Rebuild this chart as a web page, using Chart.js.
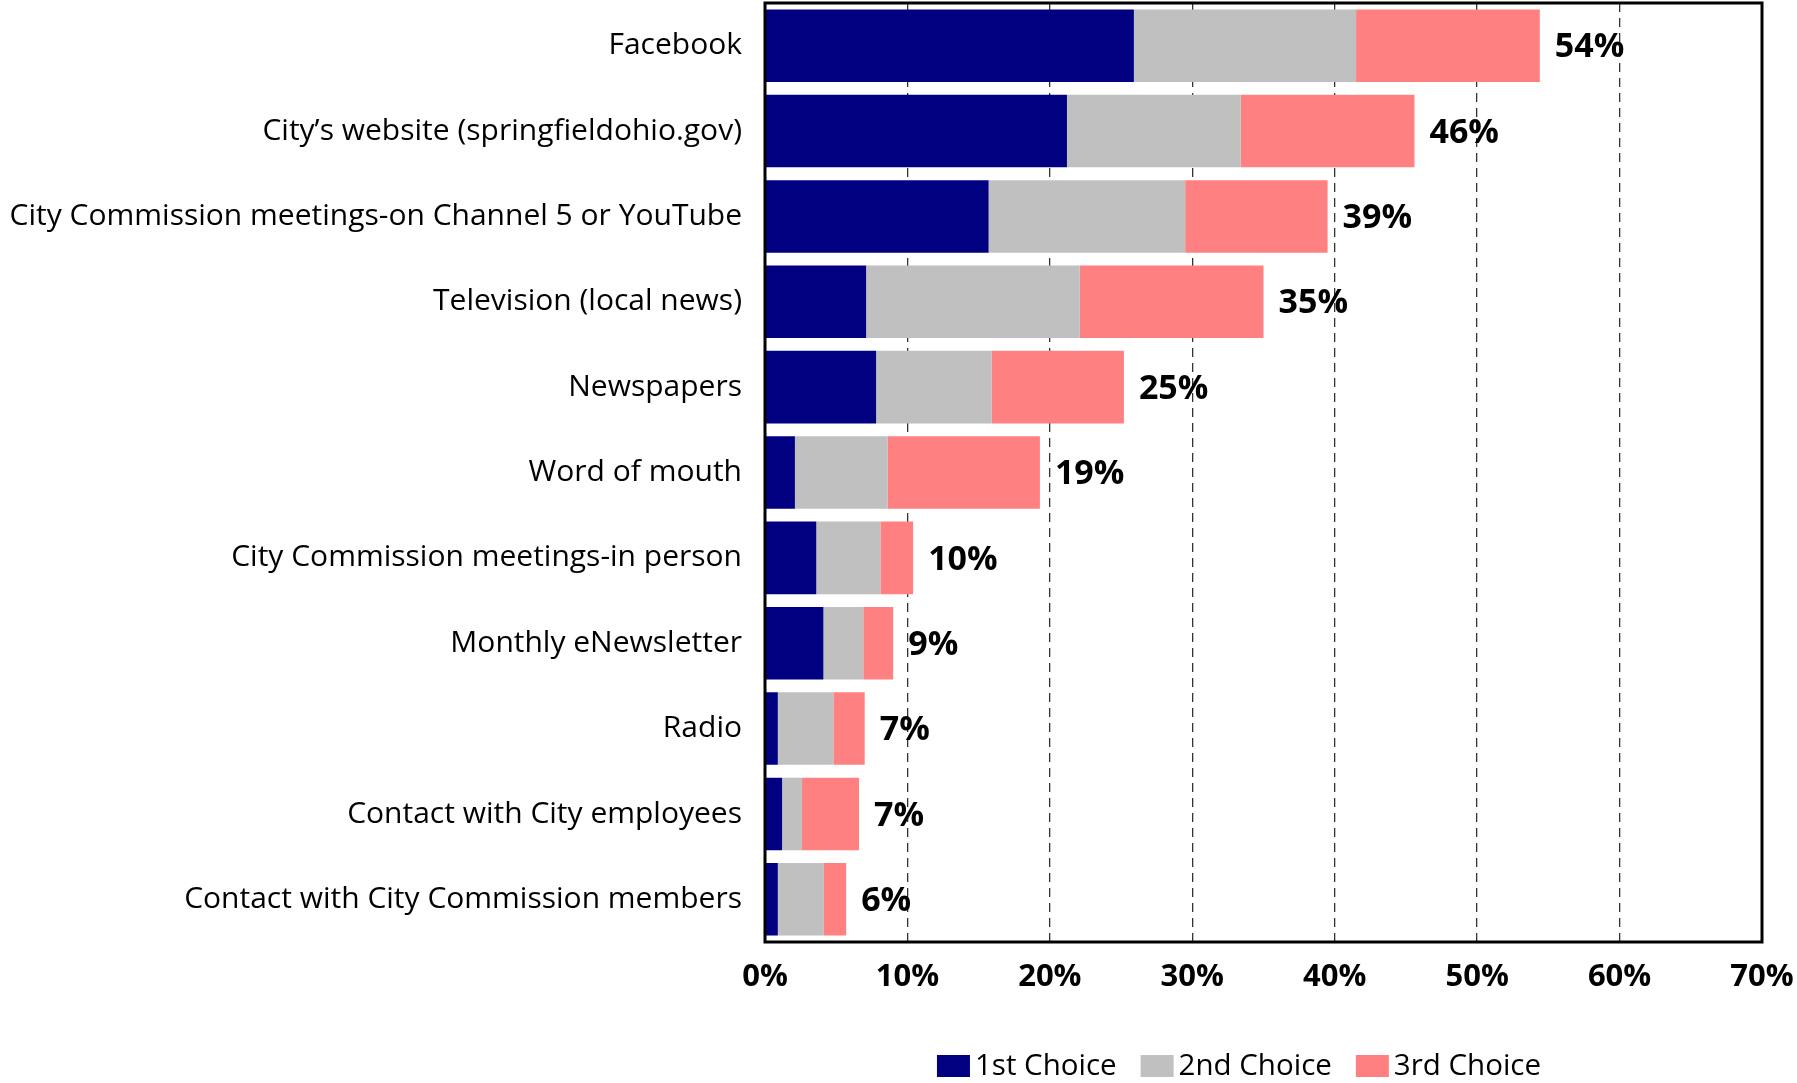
<!DOCTYPE html>
<html>
<head>
<meta charset="utf-8">
<script src="https://cdn.jsdelivr.net/npm/chart.js@4"></script>
<style>
  html, body { margin: 0; padding: 0; background: #fff; }
</style>
</head>
<body>
<canvas id="chart" width="1797" height="1083"></canvas>
<script>
// categories, top to bottom
var categories = [
    'Facebook',
    'City\u2019s website (springfieldohio.gov)',
    'City Commission meetings-on Channel 5 or YouTube',
    'Television (local news)',
    'Newspapers',
    'Word of mouth',
    'City Commission meetings-in person',
    'Monthly eNewsletter',
    'Radio',
    'Contact with City employees',
    'Contact with City Commission members'
];

// percent of respondents
var firstChoice  = [25.9, 21.2, 15.7, 7.1, 7.8, 2.1, 3.6, 4.1, 0.9, 1.2, 0.9];
var secondChoice = [15.6, 12.2, 13.8, 15.0, 8.1, 6.5, 4.5, 2.8, 3.9, 1.4, 3.2];
var thirdChoice  = [12.9, 12.2, 10.0, 12.9, 9.3, 10.7, 2.3, 2.1, 2.2, 4.0, 1.6];
var totalLabels  = ['54%', '46%', '39%', '35%', '25%', '19%', '10%', '9%', '7%', '7%', '6%'];

var seriesNames = ['1st Choice', '2nd Choice', '3rd Choice'];
var seriesColors = ['#000080', '#C0C0C0', '#FF8080'];
var xMax = 70;
var xStep = 10;

var FONT = '"Open Sans", "DejaVu Sans", sans-serif';

// frame round the plot area
var framePlugin = {
    id: 'frame',
    afterDatasetsDraw: function(chart) {
        var a = chart.chartArea, ctx = chart.ctx;
        ctx.save();
        ctx.strokeStyle = '#000';
        ctx.lineWidth = 3;
        ctx.strokeRect(a.left, a.top, a.right - a.left, a.bottom - a.top);
        ctx.restore();
    }
};

// total labels at the end of each bar
var totalsPlugin = {
    id: 'totals',
    afterDatasetsDraw: function(chart) {
        var ctx = chart.ctx;
        var meta = chart.getDatasetMeta(2);
        ctx.save();
        ctx.font = 'bold 34px ' + FONT;
        ctx.fillStyle = '#000';
        ctx.textAlign = 'left';
        ctx.textBaseline = 'middle';
        meta.data.forEach(function(bar, i) {
            ctx.fillText(totalLabels[i], bar.x + 15, bar.y + 2);
        });
        ctx.restore();
    }
};

// legend drawn by hand so the box/text spacing matches
var legendPlugin = {
    id: 'customLegend',
    afterDraw: function(chart) {
        var ctx = chart.ctx;
        var boxW = 33, boxH = 22, gap = 5, itemGap = 24;
        ctx.save();
        ctx.font = '29.5px ' + FONT;
        var widths = seriesNames.map(function(n) { return ctx.measureText(n).width; });
        var total = 0;
        widths.forEach(function(w) { total += boxW + gap + w; });
        total += itemGap * (seriesNames.length - 1);
        var x = 1239 - total / 2;
        var cy = 1066;
        ctx.textBaseline = 'middle';
        ctx.textAlign = 'left';
        seriesNames.forEach(function(n, i) {
            ctx.fillStyle = seriesColors[i];
            ctx.fillRect(x, cy - boxH / 2, boxW, boxH);
            ctx.fillStyle = '#000';
            ctx.fillText(n, x + boxW + gap, cy + 1);
            x += boxW + gap + widths[i] + itemGap;
        });
        ctx.restore();
    }
};

var ctx = document.getElementById('chart').getContext('2d');
var chart = new Chart(ctx, {
    type: 'bar',
    data: {
        labels: categories,
        datasets: [
            { label: seriesNames[0], data: firstChoice,  backgroundColor: seriesColors[0] },
            { label: seriesNames[1], data: secondChoice, backgroundColor: seriesColors[1] },
            { label: seriesNames[2], data: thirdChoice,  backgroundColor: seriesColors[2] }
        ]
    },
    options: {
        indexAxis: 'y',
        responsive: false,
        animation: false,
        devicePixelRatio: 1,
        datasets: {
            bar: { categoryPercentage: 1, barPercentage: 0.85, borderWidth: 0 }
        },
        layout: {
            padding: { top: 3, right: 35, bottom: 81, left: 0 }
        },
        plugins: {
            legend: { display: false },
            tooltip: { enabled: false }
        },
        scales: {
            x: {
                stacked: true,
                min: 0,
                max: xMax,
                afterFit: function(scale) {
                    scale.height = 60;
                    scale.paddingLeft = 0;
                    scale.paddingRight = 0;
                },
                ticks: {
                    stepSize: xStep,
                    padding: 17,
                    color: '#000',
                    font: { family: FONT, size: 31, weight: 'bold' },
                    callback: function(v) { return v + '%'; }
                },
                grid: { color: '#333', lineWidth: 1.3, drawTicks: false },
                border: { display: false, dash: [9, 6] }
            },
            y: {
                stacked: true,
                afterFit: function(scale) {
                    scale.width = 765;
                    scale.paddingTop = 0;
                    scale.paddingBottom = 0;
                },
                ticks: {
                    padding: 23,
                    color: '#000',
                    font: { family: FONT, size: 30 }
                },
                grid: { display: false, drawTicks: false },
                border: { display: false }
            }
        }
    },
    plugins: [framePlugin, totalsPlugin, legendPlugin]
});
</script>
</body>
</html>
